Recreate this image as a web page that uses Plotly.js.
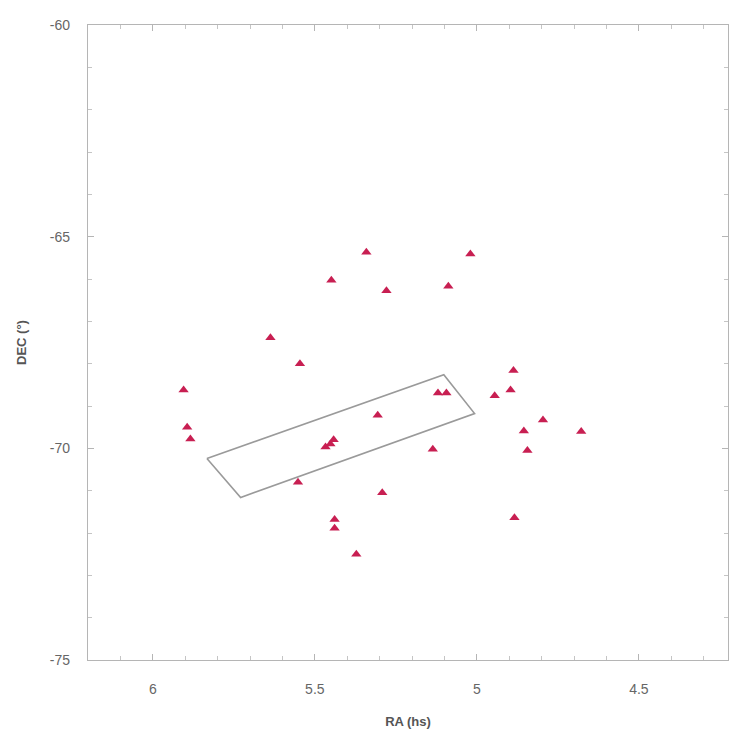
<!DOCTYPE html>
<html>
<head>
<meta charset="utf-8">
<script src="https://cdn.plot.ly/plotly-3.0.1.min.js"></script>
<style>html,body{margin:0;padding:0;background:#fff;}#chart{width:730px;height:732px;}</style>
</head>
<body>
<div id="chart"></div>
<script>
// Star positions (RA in hours, DEC in degrees)
const starRA  = [5.341, 5.020, 5.449, 5.279, 5.088, 5.637, 5.546, 5.905, 4.887, 5.894,
                 5.884, 5.306, 5.120, 5.094, 4.945, 4.896, 4.796, 4.855, 4.678, 5.467,
                 5.452, 5.442, 5.136, 4.844, 5.552, 5.292, 5.439, 5.439, 4.884, 5.372];
const starDEC = [-65.37, -65.41, -66.03, -66.28, -66.17, -67.39, -68.00, -68.62, -68.16, -69.50,
                 -69.78, -69.22, -68.69, -68.69, -68.76, -68.62, -69.33, -69.59, -69.60, -69.97,
                 -69.90, -69.80, -70.02, -70.05, -70.80, -71.05, -71.68, -71.89, -71.64, -72.50];
// Field outline (closed polygon)
const rectRA  = [5.833, 5.729, 5.007, 5.102, 5.833];
const rectDEC = [-70.24, -71.16, -69.18, -68.26, -70.24];

const xTickVals = [6, 5.5, 5, 4.5];
const xTickText = ['6', '5.5', '5', '4.5'];
const yTickVals = [-60, -65, -70, -75];
const yTickText = ['-60', '-65', '-70', '-75'];

const traces = [
  {x: rectRA, y: rectDEC, mode: 'lines', type: 'scatter',
   line: {color: '#9a9a9a', width: 1.6}, hoverinfo: 'skip'},
  {x: starRA, y: starDEC, mode: 'markers', type: 'scatter',
   marker: {symbol: 'triangle-up', size: 9, color: '#c81f52'}}
];

const axisCommon = {
  showgrid: false, zeroline: false, showline: true, linecolor: '#b5b5b5', linewidth: 1.2,
  mirror: 'ticks', ticks: 'inside', ticklen: 6, tickcolor: '#b5b5b5',
  tickfont: {family: 'Liberation Sans, Arial, sans-serif', size: 14, color: '#666'}
};

const layout = {
  width: 730, height: 732,
  margin: {l: 88, r: 2, t: 25, b: 72},
  paper_bgcolor: '#fff', plot_bgcolor: '#fff',
  showlegend: false,
  xaxis: Object.assign({}, axisCommon, {
    range: [6.2, 4.225], tickmode: 'array', tickvals: xTickVals, ticktext: xTickText,
    ticklabelstandoff: 16,
    minor: {dtick: 0.1, ticks: 'inside', ticklen: 4, tickcolor: '#c5c5c5'},
    title: {text: '<b>RA (hs)</b>', standoff: 20,
            font: {family: 'Liberation Sans, Arial, sans-serif', size: 13, color: '#555'}}
  }),
  yaxis: Object.assign({}, axisCommon, {
    range: [-75, -60], tickmode: 'array', tickvals: yTickVals, ticktext: yTickText,
    ticklabelstandoff: 14,
    minor: {dtick: 1, ticks: 'inside', ticklen: 4, tickcolor: '#c5c5c5'},
    title: {text: '<b>DEC (°)</b>', standoff: 20,
            font: {family: 'Liberation Sans, Arial, sans-serif', size: 13, color: '#555'}}
  })
};

Plotly.newPlot('chart', traces, layout, {displayModeBar: false, staticPlot: true});
</script>
</body>
</html>
